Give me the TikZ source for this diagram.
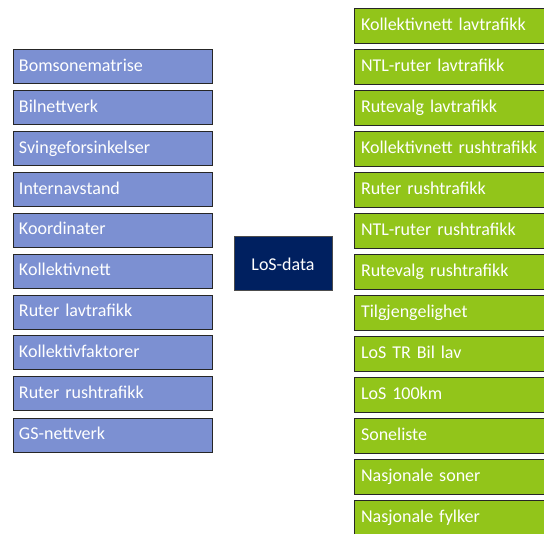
\documentclass[tikz,border=0pt]{standalone}
\usepackage{fontspec}
\setmainfont{Carlito}
\usepackage{tikz}

\definecolor{inputblue}{RGB}{124,144,210}
\definecolor{outputgreen}{RGB}{146,197,26}
\definecolor{losnavy}{RGB}{0,32,96}

\tikzset{
  inbox/.style={draw=black!85, line width=1pt, fill=inputblue, text=white,
    minimum width=199pt, minimum height=34pt, text width=187pt, align=left,
    inner sep=6pt, text height=12.5pt, text depth=3.5pt,
    font=\fontsize{18}{21}\selectfont},
  outbox/.style={draw=black!85, line width=1pt, fill=outputgreen, text=white,
    minimum width=200pt, minimum height=35pt, text width=186pt, align=left,
    inner sep=7pt, text height=12.5pt, text depth=3.5pt,
    font=\fontsize{18}{21}\selectfont},
  losbox/.style={draw=black!70, line width=1pt, fill=losnavy, text=white,
    minimum width=98pt, minimum height=54pt, font=\fontsize{18}{21}\selectfont},
}

\begin{document}
\begin{tikzpicture}[x=1pt,y=-1pt]
\clip (0,0) rectangle (544,534);
\fill[white] (0,0) rectangle (544,534);
% input files
\node[inbox] (bomsone) at (112.5,67) {Bomsonematrise};
\node[inbox] (bilnett) at (112.5,108) {Bilnettverk};
\node[inbox] (sving) at (112.5,149) {Svingeforsinkelser};
\node[inbox] (avstand) at (112.5,190) {Internavstand};
\node[inbox] (koord) at (112.5,230.5) {Koordinater};
\node[inbox] (kollnett) at (112.5,271.5) {Kollektivnett};
\node[inbox] (ruterlav) at (112.5,312.5) {Ruter lavtrafikk};
\node[inbox] (kollfakt) at (112.5,353) {Kollektivfaktorer};
\node[inbox] (ruterrush) at (112.5,394) {Ruter rushtrafikk};
\node[inbox] (gsnett) at (112.5,435.5) {GS-nettverk};
% LoS block
\node[losbox] (los) at (283,264) {LoS-data};
% output files
\node[outbox] (kolllav) at (454,26.5) {Kollektivnett lavtrafikk};
\node[outbox] (ntllav) at (454,67.5) {NTL-ruter lavtrafikk};
\node[outbox] (rutevalglav) at (454,108.5) {Rutevalg lavtrafikk};
\node[outbox] (kollrush) at (454,149.5) {Kollektivnett rushtrafikk};
\node[outbox] (ruterrushut) at (454,190.5) {Ruter rushtrafikk};
\node[outbox] (ntlrush) at (454,231.5) {NTL-ruter rushtrafikk};
\node[outbox] (rutevalgrush) at (454,272.5) {Rutevalg rushtrafikk};
\node[outbox] (tilgj) at (454,313.5) {Tilgjengelighet};
\node[outbox] (trbil) at (454,354.5) {LoS TR Bil lav};
\node[outbox] (los100) at (454,395.5) {LoS 100km};
\node[outbox] (soner) at (454,436.5) {Soneliste};
\node[outbox] (nasjsoner) at (454,477.5) {Nasjonale soner};
\node[outbox] (nasjfylker) at (454,518.5) {Nasjonale fylker};
\end{tikzpicture}
\end{document}
